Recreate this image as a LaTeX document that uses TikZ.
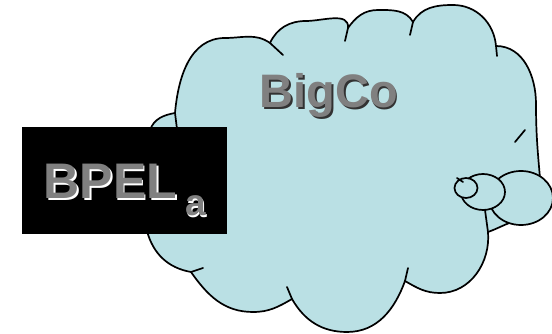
\documentclass[tikz,border=0pt]{standalone}
\usepackage{fontspec}
\setmainfont{Liberation Sans}
\usepackage{xcolor}
\usepackage{tikz}
\definecolor{cloudblue}{RGB}{186,224,228}
\definecolor{textgray}{RGB}{128,128,128}
\definecolor{shadowdark}{RGB}{50,50,50}

\begin{document}
\begin{tikzpicture}[
			x=1pt,y=1pt,
			cloudline/.style={draw=black,line width=1.7pt,line join=round},
			bubble/.style={cloudline,fill=cloudblue},
			tick/.style={draw=black,line width=1.7pt,line cap=round},
			bpelbox/.style={fill=black,inner sep=0pt,minimum width=205pt,minimum height=107pt},
			cotext/.style={inner sep=0pt,anchor=base,font=\fontsize{47}{47}\selectfont\bfseries},
			bpeltext/.style={inner sep=0pt,anchor=base west,font=\fontsize{50}{50}\selectfont\bfseries}
			]
			\useasboundingbox (0,0) rectangle (552,334);
			% cloud outline, lobe by lobe
			\draw[bubble]
				(175,221) to[out=85,in=180] (225,296) to[out=0,in=145] (270,291)
				to[out=65,in=180] (306,313) to[out=0,in=85] (348,306)
				to[out=55,in=180] (378,324) to[out=0,in=120] (413,312)
				to[out=60,in=180] (453,329) to[out=0,in=95] (496,288)
				to[out=0,in=90] (536,230) to[out=-90,in=95] (540,156)
				-- (512,112) to[out=200,in=20] (488,102)
				to[out=-85,in=0] (440,41) to[out=180,in=-30] (405,53)
				to[out=-110,in=0] (347,2) to[out=180,in=-60] (292,35)
				to[out=-150,in=0] (253,22) to[out=180,in=-55] (191,62)
				to[out=170,in=-75] (147,103) to[out=105,in=-110] (150,204)
				to[out=70,in=190] (175,221) -- cycle;
			% lobe ends
			\draw[tick] (175,221) -- (177,205);
			\draw[tick] (270,291) -- (283,279);
			\draw[tick] (348,306) -- (345,293);
			\draw[tick] (413,312) -- (410,299);
			\draw[tick] (496,288) -- (497,278);
			\draw[tick] (515,192) -- (525,204);
			\draw[tick] (488,102) -- (485,124);
			\draw[tick] (405,53) -- (408,66);
			\draw[tick] (292,35) -- (287,47);
			\draw[tick] (191,62) -- (203,66);
			% thought bubbles
			\draw[bubble] (521,136) ellipse [x radius=32pt,y radius=27pt];
			\draw[bubble] (483,142) ellipse [x radius=22pt,y radius=18pt];
			\draw[bubble] (466,146) ellipse [x radius=11.5pt,y radius=10pt];
			\draw[tick] (457,156) -- (463,152);
			% labels
			\node[cotext,text=shadowdark] (bigco shadow) at (330.5,224.5) {BigCo};
			\node[cotext,text=textgray] (bigco) at (329,226) {BigCo};
			\node[bpelbox] (bpel box) at (124.5,153.5) {};
			\node[bpeltext,text=white] (bpel shadow) at (45,133.5) {BPEL\hspace{8pt}\raisebox{-17pt}{\fontsize{37}{37}\selectfont a}};
			\node[bpeltext,text=textgray] (bpel) at (43.5,135) {BPEL\hspace{8pt}\raisebox{-17pt}{\fontsize{37}{37}\selectfont a}};
		\end{tikzpicture}
\end{document}
